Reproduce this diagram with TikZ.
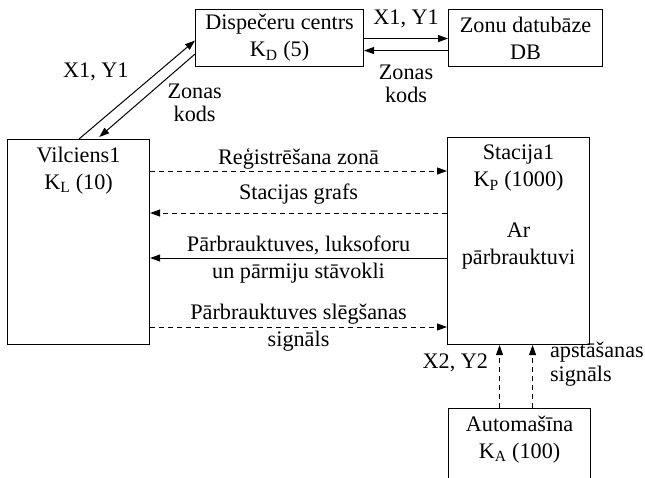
\documentclass[tikz,border=0pt]{standalone}
\usepackage{fontspec}
\setmainfont{Liberation Serif}
\usetikzlibrary{positioning, arrows.meta}

\begin{document}
\begin{tikzpicture}[
      x=1pt, y=-1pt,
      every node/.style={font=\fontsize{22.2}{27}\selectfont, inner sep=1pt},
      unit/.style={draw, line width=1.1pt, anchor=north west, inner sep=0pt, align=center},
      caption/.style={anchor=north, align=center},
      flow/.style={-{Triangle[length=10pt, width=7pt]}, line width=1pt},
      signal/.style={flow, dash pattern=on 5pt off 4pt},
    ]
    \clip (0,0) rectangle (645,477);

    % Units
    \node[unit, minimum width=168pt, minimum height=57pt] (disp) at (195,9) {Dispečeru centrs\\K\textsubscript{D} (5)};
    \node[unit, minimum width=154pt, minimum height=57pt] (db) at (448,9) {Zonu datubāze\\DB};
    \node[unit, minimum width=142pt, minimum height=205pt] (train) at (7,139) {};
    \node[unit, minimum width=142pt, minimum height=207pt] (station) at (447,137) {};
    \node[unit, minimum width=142pt, minimum height=95pt] (auto) at (448,408) {};
    \node[caption] (trainname) at ([yshift=-7pt]train.north) {Vilciens1\\K\textsubscript{L} (10)};
    \node[caption] (stationname) at ([yshift=-7pt]station.north) {Stacija1\\K\textsubscript{P} (1000)\\[24pt]Ar\\pārbrauktuvi};
    \node[caption] (autoname) at ([yshift=-7pt]auto.north) {Automašīna\\K\textsubscript{A} (100)};

    % Train <-> dispatcher <-> database
    \draw[flow] ([xshift=72pt]train.north west) -- ([yshift=-2.5pt]disp.west)
      node[midway, above left=7pt and 7pt] {X1, Y1};
    \draw[flow, shorten >=3pt] ([yshift=-16pt]disp.west) -- ([xshift=90pt]train.north west)
      node[midway, right=20pt, yshift=-6pt, align=center] {Zonas\\[-4pt]kods};
    \draw[flow] ([yshift=-0.5pt]disp.east) -- ([yshift=-0.5pt]db.west)
      node[midway, above=9pt] {X1, Y1};
    \draw[flow] ([yshift=-12.5pt]db.west) -- ([yshift=-12.5pt]disp.east)
      node[midway, below=13pt, align=center] {Zonas\\[-4pt]kods};

    % Train <-> station
    \draw[signal] (train.east |- 0,171) -- (station.west |- 0,171)
      node[midway, above=0pt] {Reģistrēšana zonā};
    \draw[signal] (station.west |- 0,213) -- (train.east |- 0,213)
      node[midway, above=7pt] {Stacijas grafs};
    \draw[flow] (station.west |- 0,258) -- (train.east |- 0,258)
      node[midway, yshift=-2pt, align=center] {Pārbrauktuves, luksoforu\\un pārmiju stāvokli};
    \draw[signal] (train.east |- 0,327) -- (station.west |- 0,327)
      node[midway, yshift=-1pt, align=center] {Pārbrauktuves slēgšanas\\signāls};

    % Car -> station
    \draw[signal] ([xshift=-20pt]auto.north) -- ([xshift=-20pt]auto.north |- station.south)
      node[pos=0.72, left=10pt] {X2, Y2};
    \draw[signal] ([xshift=13pt]auto.north) -- ([xshift=13pt]auto.north |- station.south)
      node[pos=0.7, right=16pt, align=left] {apstāšanas\\[-3pt]signāls};
  \end{tikzpicture}
\end{document}
